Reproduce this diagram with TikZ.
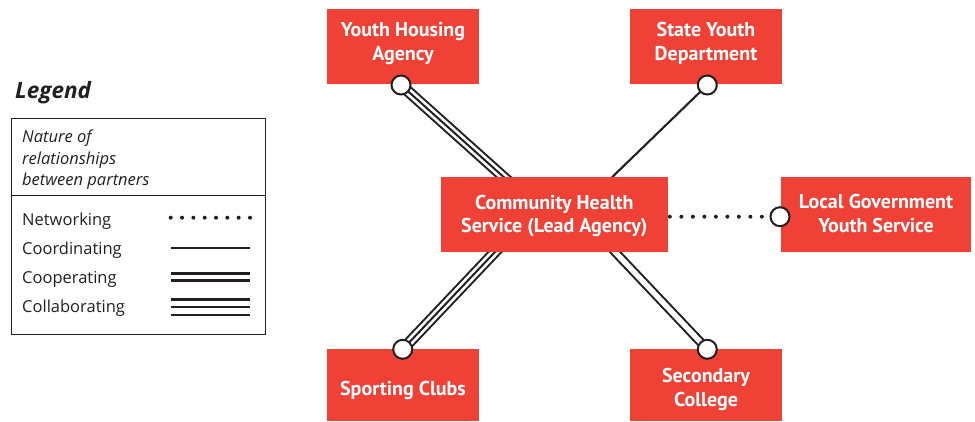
\documentclass[tikz,border=0pt]{standalone}
\usepackage{fontspec}
\setmainfont{Open Sans}
\newfontfamily\boxfont{PT Sans}
\usetikzlibrary{backgrounds}
\definecolor{boxred}{RGB}{239,65,54}
\definecolor{ink}{RGB}{35,31,32}
\begin{document}
\begin{tikzpicture}[x=1pt,y=-1pt,
  agency/.style={fill=boxred, text=white, font=\boxfont\bfseries\fontsize{20}{23.5}\selectfont,
    align=center, inner sep=0pt, minimum width=152pt, minimum height=75pt},
  joint/.style={circle, draw=ink, line width=2pt, fill=white, inner sep=0pt, minimum size=19pt},
  collab/.style={draw=ink, line width=11.4pt,
    postaction={draw=white, line width=7.4pt},
    postaction={draw=ink, line width=2pt}},
  coop/.style={draw=ink, line width=9.4pt,
    postaction={draw=white, line width=5.4pt}},
  coord/.style={draw=ink, line width=2.1pt},
  netw/.style={draw=ink, line width=4pt, line cap=round, dash pattern=on 0pt off 11.5pt},
  legtext/.style={font=\fontsize{16.5}{21.7}\selectfont, text=ink, inner sep=0pt, anchor=base west},
]
\useasboundingbox (0,0) rectangle (975,421);

% agency boxes
\node[agency, text height=34pt, text depth=7pt] (yha) at (403,46.7) {Youth Housing\\Agency};
\node[agency, text height=34pt, text depth=7pt] (syd) at (706,46.7) {State Youth\\Department};
\node[agency, minimum width=226.7pt, text height=40pt, text depth=4.2pt] (chs) at (554.3,214.8) {Community Health\\Service (Lead Agency)};
\node[agency, minimum width=190pt, text height=40pt, text depth=5pt] (lgy) at (876,214.8) {Local Government\\Youth Service};
\node[agency, minimum height=72pt, text height=26pt, text depth=6pt] (spc) at (403,385) {Sporting Clubs};
\node[agency, minimum height=72pt, text height=46pt, text depth=4pt] (sec) at (706,385) {Secondary\\College};

% joints
\node[joint] (j1) at (401,85) {};
\node[joint] (j2) at (707.3,85) {};
\node[joint] (j3) at (780,216.7) {};
\node[joint] (j4) at (402.7,349.3) {};
\node[joint] (j5) at (707.3,349.3) {};

% targets inside lead agency
\coordinate (t1) at (546,215);
\coordinate (t2) at (573,215);
\coordinate (t4) at (530,215);
\coordinate (t5) at (580,215);
\coordinate (t3) at ([xshift=2pt]chs.east |- j3);

\begin{scope}[on background layer]
  \draw[collab] (j1.center) -- (t1);
  \draw[coord] (j2.center) -- (t2);
  \draw[collab] (j4.center) -- (t4);
  \draw[coop] (j5.center) -- (t5);
  \draw[netw] (t3) -- (j3.center);
\end{scope}

% legend
\node[legtext, font=\bfseries\itshape\fontsize{22.5}{26}\selectfont] (legtitle) at (15,98.3) {Legend};
\node[draw=ink, line width=1.2pt, minimum width=254pt, minimum height=216pt, anchor=north west, inner sep=0pt] (legbox) at (11,118) {};
\coordinate (dl) at (11,195.7);
\coordinate (dr) at (265,195.7);
\draw[ink, line width=1.2pt] (dl) -- (dr);
\node[legtext, font=\itshape\fontsize{16.5}{21.7}\selectfont, align=left, anchor=north west] (head) at (22,129.5) {Nature of\\relationships\\between partners};
\node[legtext] (ln) at (22,225) {Networking};
\node[legtext] (lco) at (22,254.3) {Coordinating};
\node[legtext] (lcp) at (22,283.3) {Cooperating};
\node[legtext] (lcl) at (22,312.3) {Collaborating};
\draw[netw, dash pattern=on 0pt off 11.33pt] (170.7,217.7) -- (255,217.7);
\draw[ink, line width=2.2pt] (170.7,248.3) -- (250,248.3);
\draw[ink, line width=3pt] (170.7,273.3) -- (250,273.3);
\draw[ink, line width=3pt] (170.7,280.7) -- (250,280.7);
\draw[ink, line width=3pt] (170.7,299.3) -- (250,299.3);
\draw[ink, line width=2.3pt] (170.7,307.3) -- (250,307.3);
\draw[ink, line width=2.3pt] (170.7,315) -- (250,315);
\end{tikzpicture}
\end{document}
